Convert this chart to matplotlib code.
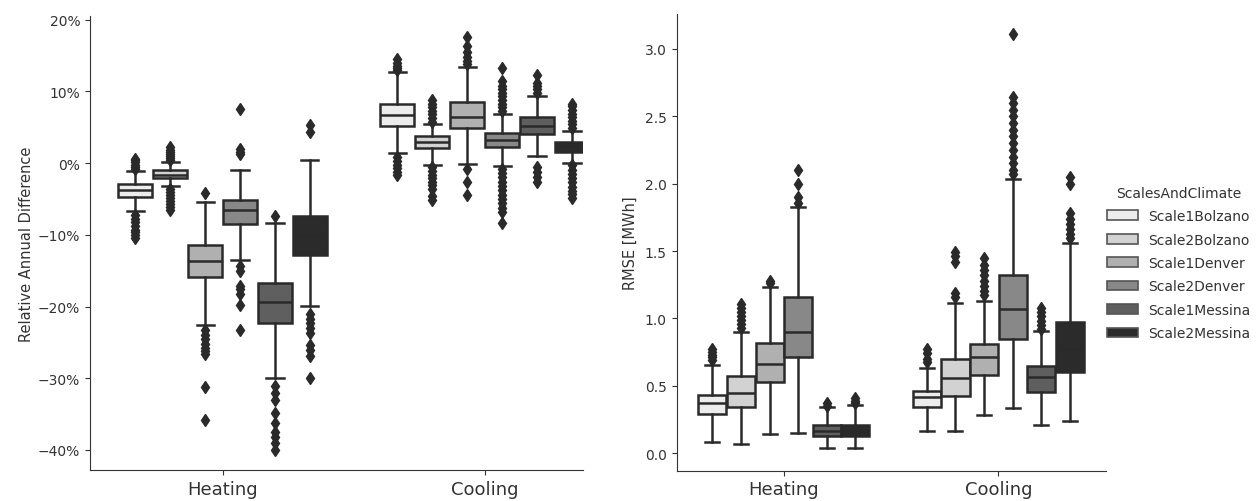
import matplotlib
matplotlib.use("Agg")
import matplotlib.pyplot as plt
from matplotlib.patches import Patch
from matplotlib.ticker import PercentFormatter, MultipleLocator

categories = ["Heating", "Cooling"]
hues = ["Scale1Bolzano", "Scale2Bolzano", "Scale1Denver",
        "Scale2Denver", "Scale1Messina", "Scale2Messina"]
colores = ["#ececec", "#d2d2d2", "#b0b0b0", "#888888", "#5f5f5f", "#2b2b2b"]

# cajas: [bigote bajo, q1, mediana, q3, bigote alto]
# diferencia anual relativa en %
diff_heat_boxes = [
    [-6.7, -4.7, -3.8, -2.9, -1.1],
    [-3.25, -2.1, -1.6, -1.0, 0.2],
    [-22.6, -15.9, -13.7, -11.4, -5.4],
    [-13.5, -8.55, -6.5, -5.2, -0.9],
    [-30.0, -22.3, -19.3, -16.7, -8.4],
    [-19.9, -12.8, -10.0, -7.4, 0.4],
]
diff_heat_fliers = [
    [-0.8, -0.5, -0.2, 0.1, 0.4, 0.6, -7.3, -7.8, -8.2, -8.8, -9.3, -9.6, -10.0, -10.5],
    [0.4, 0.7, 1.0, 1.3, 1.6, 1.9, 2.2, -3.6, -4.0, -4.4, -4.9, -5.3, -5.7, -6.1, -6.5],
    [-4.1, -23.3, -24.0, -24.6, -25.2, -25.8, -26.2, -26.6, -31.2, -35.8],
    [1.3, 1.6, 2.0, 7.5, -14.4, -15.0, -17.1, -17.6, -18.3, -19.8, -23.3],
    [-7.4, -31.1, -32.0, -33.0, -34.8, -36.3, -37.5, -38.2, -39.0, -40.0],
    [4.4, 5.3, -21.0, -21.7, -22.3, -23.0, -23.7, -25.3, -26.0, -26.9, -30.0],
]
diff_cool_boxes = [
    [1.35, 5.2, 6.65, 8.2, 12.7],
    [-0.2, 2.1, 2.9, 3.8, 5.4],
    [-0.1, 4.9, 6.45, 8.55, 13.4],
    [-0.4, 2.2, 3.2, 4.2, 6.9],
    [1.0, 4.05, 5.2, 6.4, 9.4],
    [0.0, 1.6, 2.3, 3.0, 4.5],
]
diff_cool_fliers = [
    [13.0, 13.3, 13.6, 14.0, 14.5, 0.8, 0.3, -0.2, -0.7, -1.2, -1.7],
    [5.8, 6.3, 6.8, 7.3, 7.8, 8.3, 8.8, -0.6, -1.1, -1.6, -2.1, -2.6, -3.1, -3.6, -4.6, -5.2],
    [13.8, 14.3, 14.8, 15.5, 16.3, 17.6, -0.8, -2.7, -4.5],
    [7.3, 7.8, 8.3, 8.8, 9.3, 9.8, 10.3, 10.8, 11.4, 13.3,
     -0.8, -1.4, -2.0, -2.6, -3.2, -3.8, -4.4, -5.0, -5.6, -6.2, -6.8, -8.3],
    [9.8, 10.3, 10.8, 11.2, 12.3, -0.5, -1.2, -1.9, -2.6],
    [4.9, 5.4, 5.9, 6.4, 6.9, 7.4, 7.9, 8.3, -0.3, -0.9, -1.5, -2.1, -2.7, -3.3, -3.9, -4.3, -4.8],
]

# RMSE en MWh
rmse_heat_boxes = [
    [0.08, 0.29, 0.37, 0.435, 0.655],
    [0.07, 0.34, 0.45, 0.575, 0.90],
    [0.143, 0.527, 0.662, 0.816, 1.23],
    [0.148, 0.71, 0.90, 1.16, 1.83],
    [0.04, 0.126, 0.168, 0.21, 0.34],
    [0.04, 0.126, 0.165, 0.21, 0.358],
]
rmse_heat_fliers = [
    [0.69, 0.71, 0.73, 0.75, 0.77],
    [0.93, 0.96, 0.99, 1.02, 1.05, 1.08, 1.11],
    [1.26, 1.28],
    [1.86, 1.90, 2.00, 2.10],
    [0.35, 0.37],
    [0.37, 0.39, 0.41],
]
rmse_cool_boxes = [
    [0.163, 0.34, 0.415, 0.46, 0.633],
    [0.163, 0.427, 0.558, 0.70, 1.115],
    [0.284, 0.583, 0.712, 0.81, 1.132],
    [0.334, 0.848, 1.07, 1.32, 2.035],
    [0.212, 0.457, 0.564, 0.65, 0.905],
    [0.235, 0.60, 0.774, 0.976, 1.56],
]
rmse_cool_fliers = [
    [0.68, 0.70, 0.74, 0.77],
    [1.16, 1.19, 1.42, 1.46, 1.49],
    [1.17, 1.20, 1.24, 1.28, 1.32, 1.36, 1.40, 1.45],
    [2.07, 2.10, 2.15, 2.20, 2.25, 2.30, 2.35, 2.40, 2.45, 2.50, 2.55, 2.60, 2.64, 3.11],
    [0.92, 0.95, 0.98, 1.02, 1.05, 1.08],
    [1.60, 1.63, 1.66, 1.70, 1.74, 1.78, 2.00, 2.05],
]

color_linea = "#2a2a2a"
ancho = 0.8 / len(hues)


def dibujar_cajas(ax, cajas_por_cat, fliers_por_cat):
    for i, (cajas, fliers) in enumerate(zip(cajas_por_cat, fliers_por_cat)):
        for j, (caja, pts) in enumerate(zip(cajas, fliers)):
            lo, q1, med, q3, hi = caja
            stats = [{"whislo": lo, "q1": q1, "med": med, "q3": q3,
                      "whishi": hi, "fliers": pts}]
            pos = i - 0.4 + ancho * (j + 0.5)
            ax.bxp(stats, positions=[pos], widths=ancho * 0.98,
                   patch_artist=True, manage_ticks=False,
                   boxprops=dict(facecolor=colores[j], edgecolor=color_linea, linewidth=1.8),
                   medianprops=dict(color=color_linea, linewidth=1.8),
                   whiskerprops=dict(color=color_linea, linewidth=1.8),
                   capprops=dict(color=color_linea, linewidth=1.8),
                   flierprops=dict(marker="d", markerfacecolor=color_linea,
                                   markeredgecolor=color_linea, markersize=6,
                                   linestyle="none"))


fig = plt.figure(figsize=(12.6, 5.02), dpi=100)
ax1 = fig.add_axes([0.0714, 0.0618, 0.391, 0.904])
ax2 = fig.add_axes([0.537, 0.0604, 0.3405, 0.910])

dibujar_cajas(ax1, [diff_heat_boxes, diff_cool_boxes], [diff_heat_fliers, diff_cool_fliers])
dibujar_cajas(ax2, [rmse_heat_boxes, rmse_cool_boxes], [rmse_heat_fliers, rmse_cool_fliers])

ax1.set_xlim(-0.506, 1.374)
ax1.set_ylim(-42.8, 20.5)
ax1.yaxis.set_major_locator(MultipleLocator(10))
ax1.yaxis.set_major_formatter(PercentFormatter(xmax=100, decimals=0))
ax1.set_ylabel("Relative Annual Difference", fontsize=10.5, color="#333333", labelpad=3)

ax2.set_xlim(-0.5, 1.5)
ax2.set_ylim(-0.13, 3.26)
ax2.yaxis.set_major_locator(MultipleLocator(0.5))
ax2.set_ylabel("RMSE [MWh]", fontsize=10.5, color="#333333", labelpad=5)

for ax in (ax1, ax2):
    ax.set_xticks(range(len(categories)))
    ax.set_xticklabels(categories, fontsize=13)
    ax.tick_params(axis="y", labelsize=10)
    ax.tick_params(colors="#333333")
    ax.spines["top"].set_visible(False)
    ax.spines["right"].set_visible(False)
    for s in ("left", "bottom"):
        ax.spines[s].set_color("#333333")

handles = [Patch(facecolor=c, edgecolor="#555555", linewidth=1.2) for c in colores]
leg = fig.legend(handles, hues, title="ScalesAndClimate", loc="center left",
                 bbox_to_anchor=(0.869, 0.474), frameon=False, fontsize=10,
                 title_fontsize=10, handlelength=2.2, handletextpad=0.75,
                 labelspacing=0.68)
for t in leg.get_texts():
    t.set_color("#333333")
leg.get_title().set_color("#333333")

plt.savefig("out.png", dpi=100)
plt.close(fig)
